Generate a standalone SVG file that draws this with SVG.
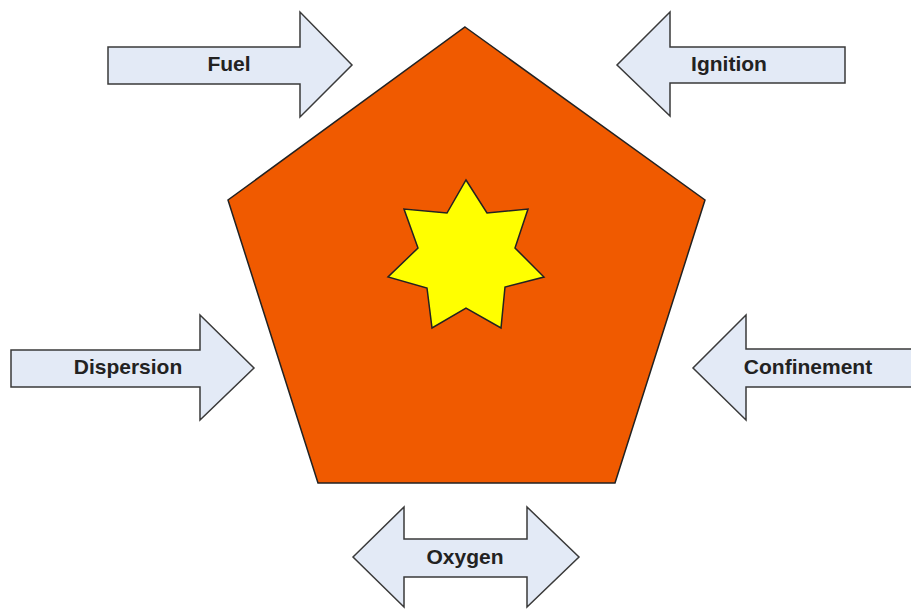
<svg xmlns="http://www.w3.org/2000/svg" width="911" height="609" viewBox="0 0 911 609">
<style>
.arrow{fill:#e3eaf6;stroke:#3a3a3a;stroke-width:1.5;stroke-linejoin:miter}
.lbl{font-family:"Liberation Sans",Arial,sans-serif;font-weight:bold;font-size:21px;fill:#222;text-anchor:middle}
</style>
<rect width="911" height="609" fill="#ffffff"/>
<g id="pentagon">
<polygon points="465,27 705,200 615,483 318,483 228,200" fill="#f05a00" stroke="#222" stroke-width="1.5"/>
</g>
<g id="star">
<polygon points="466,180 487,213 528,209 515,248 544,277 505,287 501,328 466,308 432,328 427,288 388,277 418,248 404,209 447,213" fill="#ffff00" stroke="#222" stroke-width="1.5"/>
</g>
<g id="connectors">
<g id="fuel">
<polygon class="arrow" points="108,47 300,47 300,12 352,65 300,117 300,84 108,84"/>
<text class="lbl" x="229" y="71">Fuel</text>
</g>
<g id="ignition">
<polygon class="arrow" points="845,47 670,47 670,12 617,65 670,116 670,83 845,83"/>
<text class="lbl" x="729" y="71">Ignition</text>
</g>
<g id="dispersion">
<polygon class="arrow" points="11,350 200,350 200,315 254,368 200,420 200,387 11,387"/>
<text class="lbl" x="128" y="374">Dispersion</text>
</g>
<g id="confinement">
<polygon class="arrow" points="912,349 746,349 746,315 693,368 746,420 746,387 912,387"/>
<text class="lbl" x="808" y="374">Confinement</text>
</g>
<g id="oxygen">
<polygon class="arrow" points="353,557 404,507 404,539 527,539 527,507 579,557 527,607 527,577 404,577 404,607"/>
<text class="lbl" x="465" y="564">Oxygen</text>
</g>
</g>
</svg>
